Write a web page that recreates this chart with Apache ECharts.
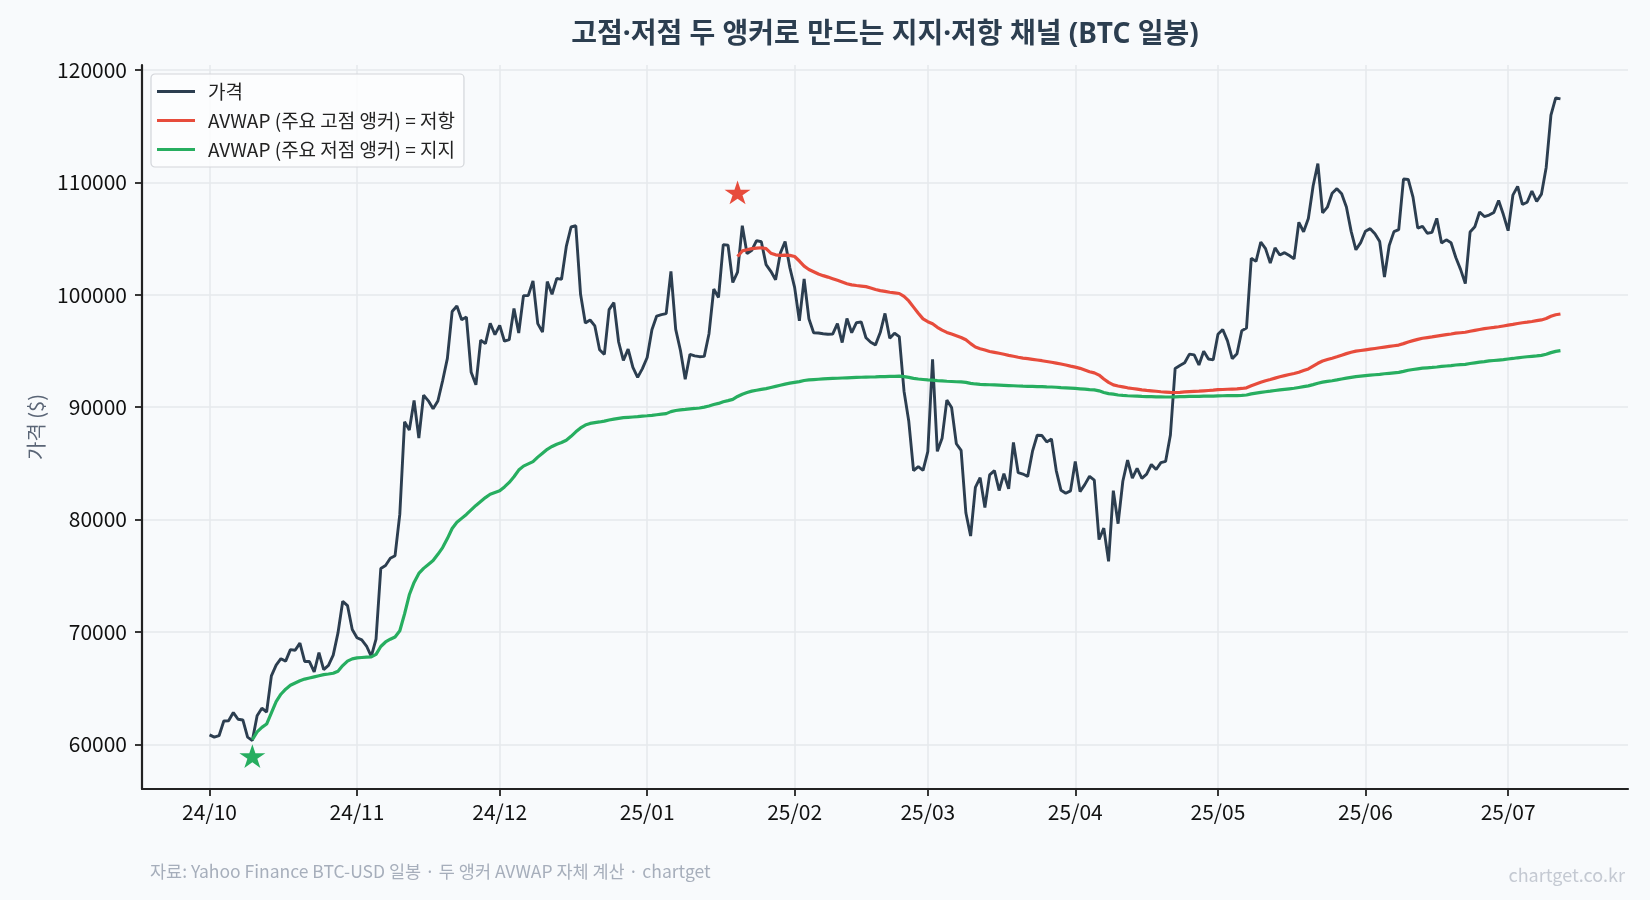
<!DOCTYPE html>
<html>
<head>
<meta charset="utf-8">
<title>고점·저점 두 앵커 AVWAP 채널</title>
<script src="https://cdn.jsdelivr.net/npm/echarts@6/dist/echarts.min.js"></script>
<style>
  html, body { margin: 0; padding: 0; background: #f8fafc; }
  #chart { width: 1650px; height: 900px; }
</style>
</head>
<body>
<div id="chart"></div>
<script>
// BTC-USD 일봉 종가, 2024-10-01 부터 하루씩
var priceOct24 = [60837, 60632, 60759, 62067, 62090, 62819, 62224, 62160, 60636, 60327, 62540, 63206, 62870, 66083, 67042, 67612, 67399, 68418, 68362, 69001, 67367, 67361, 66432, 68161, 66642, 67014, 67929, 69907, 72720, 72339, 70215];
var priceNov24 = [69482, 69289, 68741, 67811, 69359, 75639, 75904, 76545, 76778, 80474, 88701, 87955, 90585, 87250, 91067, 90558, 89845, 90542, 92343, 94339, 98504, 98997, 97777, 98013, 93102, 91985, 95962, 95652, 97461, 96449];
var priceDec24 = [97279, 95865, 96002, 98768, 96593, 99920, 99924, 101237, 97432, 96675, 101173, 100043, 101459, 101372, 104298, 106030, 106141, 100041, 97491, 97755, 97225, 95105, 94686, 98676, 99299, 95795, 94164, 95163, 93530, 92643, 93429];
var priceJan25 = [94419, 96886, 98107, 98237, 98315, 102078, 96923, 95043, 92484, 94701, 94566, 94488, 94516, 96534, 100505, 99757, 104462, 104409, 101089, 102016, 106146, 103654, 103960, 104820, 104714, 102682, 102087, 101332, 103703, 104735, 102405];
var priceFeb25 = [100655, 97689, 101405, 97871, 96615, 96593, 96529, 96482, 96500, 97437, 95748, 97885, 96623, 97508, 97580, 96175, 95773, 95540, 96635, 98334, 96125, 96577, 96274, 91418, 88736, 84347, 84704, 84373];
var priceMar25 = [86031, 94248, 86065, 87222, 90623, 89961, 86742, 86154, 80601, 78532, 82862, 83722, 81066, 83969, 84343, 82580, 84075, 82719, 86854, 84167, 84043, 83832, 86054, 87499, 87471, 86900, 87177, 84353, 82597, 82334, 82548];
var priceApr25 = [85169, 82485, 83102, 83843, 83504, 78214, 79235, 76271, 82573, 79626, 83404, 85287, 83684, 84542, 83668, 84033, 84895, 84450, 85063, 85174, 87518, 93441, 93699, 93943, 94720, 94646, 93754, 94978, 94284, 94207];
var priceMay25 = [96492, 96910, 95891, 94315, 94748, 96803, 97032, 103241, 102970, 104696, 104107, 102812, 104170, 103539, 103744, 103489, 103191, 106446, 105606, 106791, 109678, 111673, 107288, 107791, 109035, 109440, 108994, 107802, 105641, 103998, 104638];
var priceJun25 = [105652, 105882, 105432, 104731, 101575, 104390, 105615, 105793, 110294, 110257, 108686, 105930, 106091, 105472, 105553, 106796, 104601, 104884, 104632, 103309, 102258, 100987, 105577, 106046, 107361, 106960, 107088, 107327, 108385, 107135];
var priceJul25 = [105698, 108859, 109648, 108034, 108231, 109232, 108300, 108950, 111327, 115987, 117516, 117435];
var priceStart = '2024-10-01';

// 저점 앵커 AVWAP (지지), 2024-10-10 부터
var supportStart = '2024-10-10';
var supportAvwap = [
  60400, 61100, 61500, 61800, 62800, 63800, 64450, 64900, 65250, 65450, 65650, 65800, 65900, 66000, 66100, 66200, 66250, 66320, 66500, 67000, 67400, 67600,
  67680, 67720, 67750, 67770, 68000, 68700, 69100, 69350, 69550, 70100, 71600, 73300, 74400, 75200, 75650, 76000, 76350, 76900, 77500, 78300, 79200, 79750, 80100, 80450, 80850, 81250, 81600, 81950, 82250, 82400,
  82550, 82900, 83300, 83800, 84400, 84750, 84950, 85150, 85550, 85900, 86250, 86500, 86700, 86850, 87050, 87400, 87800, 88150, 88400, 88550, 88620, 88680, 88750, 88850, 88930, 89000, 89060, 89090, 89120, 89150, 89200,
  89230, 89270, 89320, 89370, 89420, 89600, 89700, 89760, 89800, 89850, 89880, 89920, 90000, 90100, 90230, 90330, 90480, 90580, 90690, 90950, 91150, 91300, 91420, 91500, 91580, 91650, 91750, 91850, 91950, 92050, 92130,
  92200, 92270, 92370, 92420, 92450, 92480, 92510, 92530, 92550, 92570, 92590, 92610, 92630, 92650, 92660, 92670, 92680, 92690, 92710, 92720, 92730, 92740, 92750, 92720, 92650, 92560, 92500, 92460,
  92420, 92400, 92360, 92330, 92300, 92280, 92260, 92240, 92200, 92110, 92060, 92030, 92010, 91990, 91980, 91960, 91940, 91920, 91900, 91880, 91860, 91850, 91840, 91830, 91820, 91800, 91790, 91770, 91740, 91720, 91690,
  91660, 91630, 91600, 91560, 91530, 91450, 91300, 91200, 91150, 91080, 91040, 91010, 90990, 90970, 90950, 90940, 90930, 90920, 90910, 90900, 90900, 90920, 90930, 90940, 90950, 90955, 90960, 90970, 90975, 90985,
  91000, 91010, 91015, 91020, 91030, 91050, 91080, 91180, 91250, 91310, 91370, 91420, 91480, 91530, 91580, 91630, 91680, 91750, 91820, 91890, 92000, 92120, 92220, 92290, 92350, 92420, 92500, 92580, 92650, 92720, 92760,
  92800, 92840, 92880, 92920, 92970, 93010, 93050, 93090, 93180, 93280, 93350, 93410, 93470, 93500, 93530, 93570, 93620, 93660, 93700, 93750, 93780, 93810, 93880, 93940, 94000, 94050, 94110, 94150, 94190, 94230,
  94280, 94330, 94390, 94440, 94480, 94520, 94560, 94610, 94700, 94850, 94960, 95020
];

// 고점 앵커 AVWAP (저항), 2025-01-20 부터
var resistStart = '2025-01-20';
var resistAvwap = [
  103400, 103900, 104000, 104100, 104150, 104180, 104100, 103700, 103550, 103500, 103520, 103500,
  103400, 103000, 102550, 102250, 102050, 101850, 101700, 101570, 101430, 101280, 101130, 100980, 100880, 100820, 100770, 100720, 100600, 100470, 100370, 100300, 100220, 100170, 100110, 99850, 99450, 98900, 98350, 97850,
  97600, 97420, 97100, 96850, 96650, 96500, 96350, 96200, 96000, 95650, 95350, 95200, 95080, 94950, 94870, 94790, 94700, 94610, 94530, 94440, 94360, 94310, 94250, 94190, 94130, 94060, 93990, 93920, 93840, 93750, 93650,
  93560, 93450, 93300, 93150, 93050, 92850, 92500, 92200, 91980, 91880, 91800, 91720, 91660, 91600, 91540, 91490, 91450, 91410, 91370, 91340, 91310, 91300, 91320, 91350, 91380, 91400, 91420, 91450, 91480, 91510,
  91550, 91570, 91590, 91610, 91630, 91660, 91720, 91900, 92060, 92220, 92350, 92460, 92580, 92700, 92800, 92900, 92990, 93100, 93250, 93400, 93650, 93900, 94100, 94230, 94350, 94480, 94620, 94760, 94880, 94980, 95040,
  95100, 95160, 95220, 95280, 95340, 95400, 95460, 95520, 95650, 95800, 95920, 96030, 96130, 96190, 96250, 96320, 96390, 96450, 96510, 96580, 96620, 96660, 96750, 96830, 96910, 96980, 97040, 97090, 97150, 97220,
  97290, 97360, 97440, 97510, 97560, 97620, 97690, 97760, 97880, 98080, 98220, 98290
];

// 앵커 (저점 / 고점)
var lowAnchor = ['2024-10-10', 58950];
var highAnchor = ['2025-01-20', 109100];

var yTicks = [60000, 70000, 80000, 90000, 100000, 110000, 120000];
var xTickMonths = ['2024-10-01', '2024-11-01', '2024-12-01', '2025-01-01', '2025-02-01', '2025-03-01', '2025-04-01', '2025-05-01', '2025-06-01', '2025-07-01'];

var FONT = '"Noto Sans CJK KR", "Noto Sans", sans-serif';
var TITLE_FONT = '"Noto Sans", "Noto Sans CJK KR", sans-serif';

function toTime(s, addDays) {
  var p = s.split('-');
  return new Date(+p[0], +p[1] - 1, +p[2] + (addDays || 0)).getTime();
}
function daily(start, values) {
  return values.map(function (v, i) { return [toTime(start, i), v]; });
}
function pad(n) { return n < 10 ? '0' + n : '' + n; }
function starPath() {
  var pts = [];
  for (var k = 0; k < 10; k++) {
    var r = k % 2 === 0 ? 1 : 0.382;
    var a = -Math.PI / 2 + k * Math.PI / 5;
    pts.push((r * Math.cos(a)).toFixed(3) + ',' + (r * Math.sin(a)).toFixed(3));
  }
  return 'path://M' + pts.join('L') + 'Z';
}

var prices = [].concat(priceOct24, priceNov24, priceDec24, priceJan25, priceFeb25, priceMar25, priceApr25, priceMay25, priceJun25, priceJul25);
var priceData = daily(priceStart, prices);
var firstT = priceData[0][0];
var lastT = priceData[priceData.length - 1][0];
var pad5 = (lastT - firstT) * 0.05;
var monthTicks = xTickMonths.map(function (s) { return toTime(s); });

var chart = echarts.init(document.getElementById('chart'), null, { renderer: 'canvas' });

var option = {
  backgroundColor: '#f8fafc',
  animation: false,
  textStyle: { fontFamily: FONT },
  graphic: [
    {
      type: 'text', x: 885, y: 35,
      style: {
        text: '고점·저점 두 앵커로 만드는 지지·저항 채널 (BTC 일봉)',
        font: 'bold 28px ' + TITLE_FONT, fill: '#2c3e50',
        textAlign: 'center', textVerticalAlign: 'middle'
      }
    },
    {
      type: 'text', x: 150, y: 871,
      style: {
        text: '자료: Yahoo Finance BTC-USD 일봉 · 두 앵커 AVWAP 자체 계산 · chartget',
        font: '17.5px ' + FONT, fill: '#a6aebb',
        textAlign: 'left', textVerticalAlign: 'middle'
      }
    },
    {
      type: 'text', x: 1625, y: 875,
      style: {
        text: 'chartget.co.kr',
        font: '18px ' + FONT, fill: '#c4c9d2',
        textAlign: 'right', textVerticalAlign: 'middle'
      }
    }
  ],
  grid: { left: 142, right: 22, top: 65, bottom: 111, outerBoundsMode: 'none', containLabel: false },
  legend: {
    orient: 'vertical', left: 151, top: 74,
    padding: [8, 9, 8, 6],
    itemWidth: 38, itemHeight: 3, itemGap: 10,
    backgroundColor: 'rgba(253,253,254,0.85)',
    borderColor: '#d3d6da', borderWidth: 1.2, borderRadius: 4,
    textStyle: { fontFamily: FONT, fontSize: 19, color: '#222', lineHeight: 18, padding: [0, 0, 0, 8] },
    data: [
      { name: '가격', icon: 'rect' },
      { name: 'AVWAP (주요 고점 앵커) = 저항', icon: 'rect' },
      { name: 'AVWAP (주요 저점 앵커) = 지지', icon: 'rect' }
    ]
  },
  xAxis: {
    type: 'value',
    min: firstT - pad5,
    max: lastT + pad5,
    axisLine: { show: true, onZero: false, lineStyle: { color: '#222', width: 2.2 } },
    axisTick: { show: true, inside: false, length: 7, lineStyle: { color: '#222', width: 1.8 }, customValues: monthTicks },
    axisLabel: {
      color: '#111', fontSize: 21, fontFamily: FONT, margin: 13,
      customValues: monthTicks,
      formatter: function (v) {
        var d = new Date(v);
        return String(d.getFullYear()).slice(2) + '/' + pad(d.getMonth() + 1);
      }
    },
    splitLine: { show: true, lineStyle: { color: '#e6e9ed', width: 1.5 } }
  },
  yAxis: {
    type: 'value',
    min: 56018,
    max: 120444,
    name: '가격 ($)',
    nameLocation: 'middle',
    nameGap: 96,
    nameTextStyle: { color: '#5a6576', fontSize: 20, fontFamily: FONT },
    axisLine: { show: true, lineStyle: { color: '#222', width: 2.2 } },
    axisTick: { show: true, inside: false, length: 7, lineStyle: { color: '#222', width: 1.8 }, customValues: yTicks },
    axisLabel: {
      color: '#111', fontSize: 21, fontFamily: FONT, margin: 15, customValues: yTicks,
      formatter: function (v) { return String(v); }
    },
    splitLine: { show: true, lineStyle: { color: '#e6e9ed', width: 1.5 } }
  },
  series: [
    {
      name: '가격', type: 'line', data: priceData,
      symbol: 'none', z: 2,
      lineStyle: { color: '#2c3e50', width: 2.9 },
      itemStyle: { color: '#2c3e50' }
    },
    {
      name: 'AVWAP (주요 고점 앵커) = 저항', type: 'line', data: daily(resistStart, resistAvwap),
      symbol: 'none', z: 3,
      lineStyle: { color: '#e74c3c', width: 3.2 },
      itemStyle: { color: '#e74c3c' }
    },
    {
      name: 'AVWAP (주요 저점 앵커) = 지지', type: 'line', data: daily(supportStart, supportAvwap),
      symbol: 'none', z: 3,
      lineStyle: { color: '#27ae60', width: 3.2 },
      itemStyle: { color: '#27ae60' }
    },
    {
      name: '고점 앵커', type: 'scatter', z: 4,
      symbol: starPath(), symbolSize: [26, 25], symbolKeepAspect: true,
      itemStyle: { color: '#e74c3c', opacity: 1 },
      data: [[toTime(highAnchor[0]), highAnchor[1]]]
    },
    {
      name: '저점 앵커', type: 'scatter', z: 4,
      symbol: starPath(), symbolSize: [26, 25], symbolKeepAspect: true,
      itemStyle: { color: '#27ae60', opacity: 1 },
      data: [[toTime(lowAnchor[0]), lowAnchor[1]]]
    }
  ]
};

chart.setOption(option);
</script>
</body>
</html>
